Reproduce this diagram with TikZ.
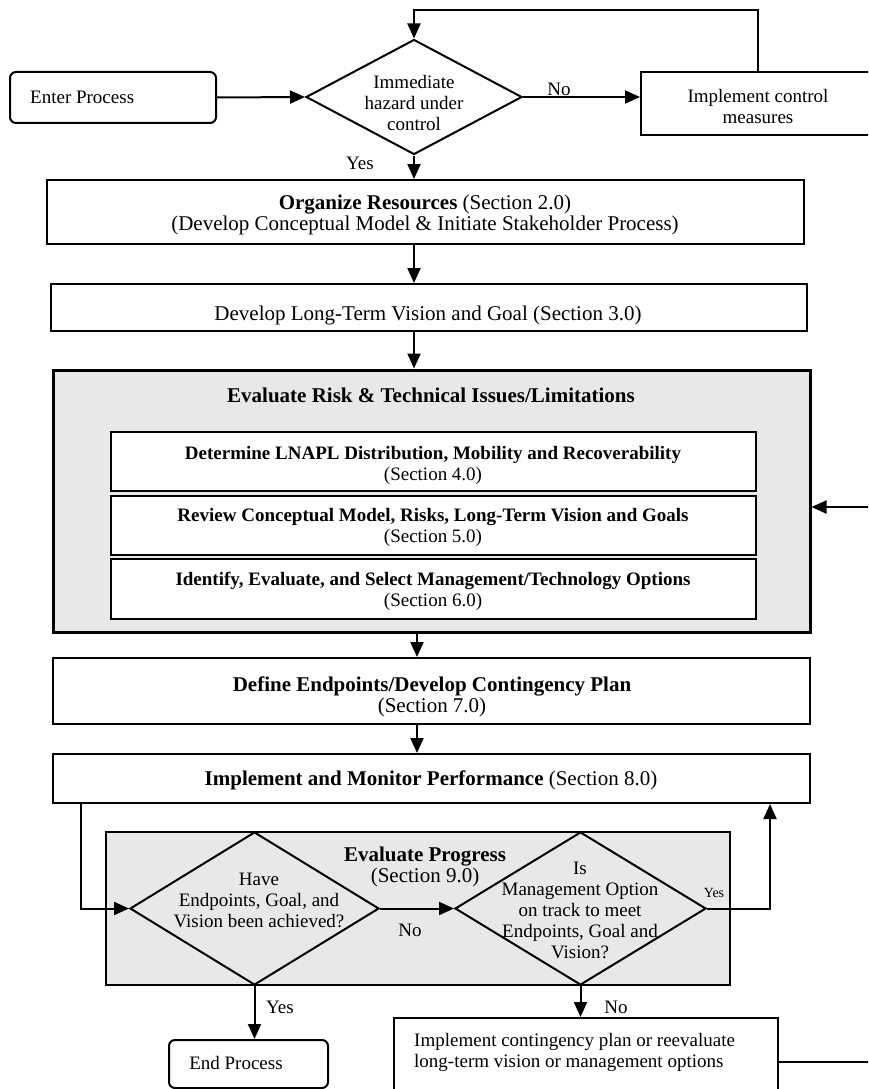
\documentclass[tikz,border=0pt]{standalone}
\usepackage{fontspec}
\setmainfont{Liberation Serif}
\usetikzlibrary{arrows.meta,shapes.geometric}
\definecolor{grayfill}{HTML}{E8E8E8}

\begin{document}
\begin{tikzpicture}[x=1pt,y=-1pt,
  every node/.style={inner sep=0pt},
  txt/.style={font=\fontsize{19}{21}\selectfont,align=center},
  bigtxt/.style={font=\fontsize{21}{21}\selectfont,align=center},
  smalltxt/.style={font=\fontsize{14}{16}\selectfont},
  box/.style={draw,line width=2pt,fill=white},
  rbox/.style={box,rounded corners=6pt},
  grp/.style={draw,line width=3pt,fill=grayfill},
  inbox/.style={draw,line width=1.3pt,fill=white},
  decision/.style={draw,diamond,line width=2pt},
  arr/.style={line width=2pt,-{Triangle[length=15pt,width=13pt]}},
  ln/.style={line width=2pt}]
  \useasboundingbox (0,0) rectangle (868,1089);
  \clip (0,0) rectangle (868,1089);

  % top: entry check
  \node[rbox,minimum width=206,minimum height=51] (enter) at (113,97.5) {};
  \node[txt,anchor=west] (entertxt) at (30,97) {Enter Process};
  \node[decision,fill=white,minimum width=216,minimum height=115] (hazard) at (414,97) {};
  \node[txt] (hazardtxt) at (414,103.5) {Immediate\\hazard under\\control};
  \node[box,minimum width=234,minimum height=63] (control) at (758,103.5) {};
  \node[txt] (controltxt) at (758,107) {Implement control\\measures};
  \node[txt] (nohaz) at (559,89) {No};
  \node[txt] (yeshaz) at (360,163) {Yes};

  % main column
  \node[box,minimum width=757,minimum height=64] (org) at (425.5,212) {};
  \node[bigtxt] (orgtxt) at (425,215) {\textbf{Organize Resources} (Section 2.0)\\(Develop Conceptual Model \& Initiate Stakeholder Process)};
  \node[box,minimum width=756,minimum height=47] (dev) at (429,307.5) {};
  \node[bigtxt] (devtxt) at (428,315) {Develop Long-Term Vision and Goal (Section 3.0)};

  \node[grp,minimum width=757,minimum height=262] (risk) at (431.5,501) {};
  \node[bigtxt] (risktxt) at (431,395) {\textbf{Evaluate Risk \& Technical Issues/Limitations}};
  \node[inbox,minimum width=645,minimum height=59] (lnapl) at (433.5,461.5) {};
  \node[inbox,minimum width=645,minimum height=59] (review) at (433.5,525.5) {};
  \node[inbox,minimum width=645,minimum height=60] (select) at (433.5,589) {};
  \node[txt] (lnapltxt) at (433,465) {\textbf{Determine LNAPL Distribution, Mobility and Recoverability}\\(Section 4.0)};
  \node[txt] (reviewtxt) at (433,527.5) {\textbf{Review Conceptual Model, Risks, Long-Term Vision and Goals}\\(Section 5.0)};
  \node[txt] (selecttxt) at (433,591) {\textbf{Identify, Evaluate, and Select Management/Technology Options}\\(Section 6.0)};

  \node[box,minimum width=757,minimum height=66] (define) at (431.5,691) {};
  \node[bigtxt] (definetxt) at (432,696.5) {\textbf{Define Endpoints/Develop Contingency Plan}\\(Section 7.0)};
  \node[box,minimum width=757,minimum height=49] (impl) at (431.5,778.5) {};
  \node[bigtxt] (impltxt) at (431,780) {\textbf{Implement and Monitor Performance} (Section 8.0)};

  % progress check
  \node[grp,line width=2pt,minimum width=624,minimum height=153] (prog) at (418,908.5) {};
  \node[bigtxt] (progtxt) at (425,866.5) {\textbf{Evaluate Progress}\\(Section 9.0)};
  \node[decision,minimum width=249,minimum height=153] (achieved) at (254.5,908.5) {};
  \node[txt] (achievedtxt) at (259,900) {Have\\Endpoints, Goal, and\\Vision been achieved?};
  \node[decision,minimum width=251,minimum height=153] (ontrack) at (580.5,908.5) {};
  \node[txt] (ontracktxt) at (580,910) {Is\\Management Option\\on track to meet\\Endpoints, Goal and\\Vision?};
  \node[txt] (noprog) at (410,930) {No};
  \node[smalltxt] (yestrack) at (714,893) {Yes};
  \node[txt] (yesdone) at (280,1007) {Yes};
  \node[txt] (notrack) at (616,1007) {No};

  \node[rbox,minimum width=159,minimum height=48] (endp) at (248.5,1064) {};
  \node[txt] (endptxt) at (236,1063) {End Process};
  \node[box,minimum width=384,minimum height=100] (contin) at (586,1068) {};
  \node[txt,anchor=west,align=left] (contintxt) at (414,1052.5) {Implement contingency plan or reevaluate\\long-term vision or management options};

  % connectors
  \draw[arr] (enter.east) -- (hazard.west);
  \draw[arr] (hazard.east) -- (hazard.east -| control.west);
  \draw[arr] (control.north) -- ++(0,-61) -| (hazard.north);
  \draw[arr] (hazard.south) -- (hazard.south |- org.north);
  \draw[arr] (org.south -| hazard.south) -- (dev.north -| hazard.south);
  \draw[arr] (dev.south -| hazard.south) -- (risk.north -| hazard.south);
  \draw[arr] ([xshift=3pt]risk.south -| hazard.south) -- ([xshift=3pt]define.north -| hazard.south);
  \draw[arr] ([xshift=3pt]define.south -| hazard.south) -- ([xshift=3pt]impl.north -| hazard.south);
  \draw[arr] ([xshift=29pt]impl.south west) |- (achieved.west);
  \draw[arr] (achieved.east) -- (ontrack.west);
  \draw[arr] (ontrack.east) -| ([xshift=-41pt]impl.south east);
  \draw[arr] (achieved.south) -- (achieved.south |- endp.north);
  \draw[arr] (ontrack.south) -- (ontrack.south |- contin.north);
  \draw[arr] ([yshift=6pt]contin.east) -- ++(110,0) |- ([yshift=-6pt]risk.east);
\end{tikzpicture}
\end{document}
